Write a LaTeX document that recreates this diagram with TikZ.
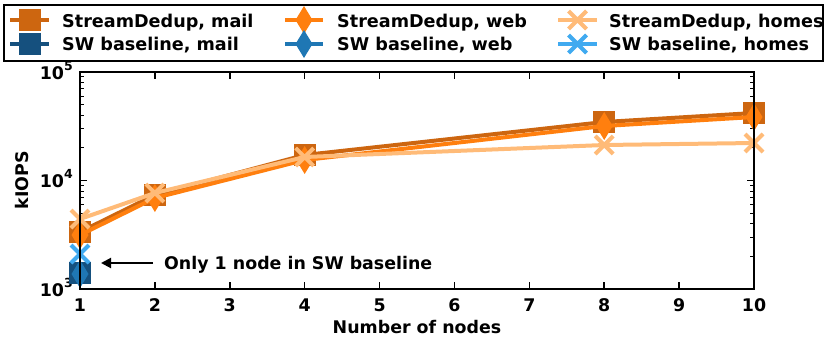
\documentclass[tikz,border=0pt]{standalone}
\usepackage{fontspec}
\setmainfont{DejaVu Sans}
\usetikzlibrary{arrows.meta}
\definecolor{sdmail}{RGB}{205,102,16}
\definecolor{sdweb}{RGB}{255,127,14}
\definecolor{sdhomes}{RGB}{255,187,120}
\definecolor{swmail}{RGB}{21,80,126}
\definecolor{swweb}{RGB}{31,119,180}
\definecolor{swhomes}{RGB}{64,170,240}
\tikzset{
  pics/sqmark/.style={code={\fill[#1] (-11,-11) rectangle (11,11);}},
  pics/dmark/.style={code={\fill[#1] (0,-14) -- (8.5,0) -- (0,14) -- (-8.5,0) -- cycle;}},
  pics/xmark/.style={code={\draw[#1, line width=4pt] (-9,-9)--(9,9) (-9,9)--(9,-9);}},
  dataline/.style={line width=4pt, line join=round},
  lab/.style={font=\fontsize{17.4}{17.4}\selectfont\bfseries, inner sep=0pt},
  leglab/.style={font=\fontsize{17.6}{17.6}\selectfont\bfseries, inner sep=0pt, anchor=base west},
  tick/.style={line width=1.5pt},
}
\newcommand\ylab[1]{10\raisebox{0.5em}{\fontsize{12.5}{12.5}\selectfont #1}}
\begin{document}
\begin{tikzpicture}[x=1pt,y=-1pt]
\useasboundingbox (0,0) rectangle (824,343);
% legend
\draw[line width=2pt] (4,5) rectangle (822.5,61);
% col 1
\draw[dataline, sdmail] (10,20) -- (49,20); \pic at (29.5,20) {sqmark=sdmail};
\node[leglab] (l1) at (62,27.5) {StreamDedup, mail};
\draw[dataline, swmail] (10,44) -- (49,44); \pic at (29.5,44) {sqmark=swmail};
\node[leglab] (l2) at (62,50.5) {SW baseline, mail};
% col 2
\draw[dataline, sdweb] (285,20) -- (323,20); \pic at (304,20) {dmark=sdweb};
\node[leglab] (l3) at (337,27.5) {StreamDedup, web};
\draw[dataline, swweb] (285,44) -- (323,44); \pic at (304,44) {dmark=swweb};
\node[leglab] (l4) at (337,50.5) {SW baseline, web};
% col 3
\draw[dataline, sdhomes] (558,20) -- (597,20); \pic at (577.5,20) {xmark=sdhomes};
\node[leglab] (l5) at (609,27.5) {StreamDedup, homes};
\draw[dataline, swhomes] (558,44) -- (597,44); \pic at (577.5,44) {xmark=swhomes};
\node[leglab] (l6) at (609,50.5) {SW baseline, homes};

% axes ticks
\foreach \n in {1,...,10}{
  \draw[tick] ({80+74.889*(\n-1)},289) -- ++(0,-7);
  \draw[tick] ({80+74.889*(\n-1)},72) -- ++(0,7);
  \node[lab, anchor=base] at ({80+74.889*(\n-1)},311) {\n};
}
\foreach \d in {0,1}{
  \foreach \m in {2,...,9}{
    \draw[line width=1pt] (80,{289-108.5*(\d+log10(\m))}) -- ++(4,0);
    \draw[line width=1pt] (754,{289-108.5*(\d+log10(\m))}) -- ++(-4,0);
  }
}
\foreach \e/\yy in {3/289,4/180.5,5/72}{
  \draw[tick] (80,\yy) -- ++(7,0);
  \draw[tick] (754,\yy) -- ++(-7,0);
  \node[lab, anchor=base east] at (73,\yy+7) {\ylab{\e}};
}
\node[lab, anchor=base] (xl) at (417,333.5) {Number of nodes};
\node[lab, rotate=90] (yl) at (22,180) {kIOPS};

% data
\foreach \nm/\n/\yy in {a1/1/232,a2/2/195,a4/4/155,a8/8/122,a10/10/113}
  \coordinate (m\nm) at ({80+74.889*(\n-1)},\yy);
\foreach \nm/\n/\yy in {a1/1/235,a2/2/198,a4/4/160,a8/8/126,a10/10/117}
  \coordinate (w\nm) at ({80+74.889*(\n-1)},\yy);
\foreach \nm/\n/\yy in {a1/1/219,a2/2/193,a4/4/157,a8/8/145,a10/10/143}
  \coordinate (h\nm) at ({80+74.889*(\n-1)},\yy);
\coordinate (swm) at (80,273);
\coordinate (sww) at (80,274);
\coordinate (swh) at (80,254);

\draw[dataline, sdmail] (ma1) -- (ma2) -- (ma4) -- (ma8) -- (ma10);
\foreach \p in {ma1,ma2,ma4,ma8,ma10} \pic at (\p) {sqmark=sdmail};
\pic at (swm) {sqmark=swmail};
\draw[dataline, sdweb] (wa1) -- (wa2) -- (wa4) -- (wa8) -- (wa10);
\foreach \p in {wa1,wa2,wa4,wa8,wa10} \pic at (\p) {dmark=sdweb};
\pic at (sww) {dmark=swweb};
\draw[dataline, sdhomes] (ha1) -- (ha2) -- (ha4) -- (ha8) -- (ha10);
\foreach \p in {ha1,ha2,ha4,ha8,ha10} \pic at (\p) {xmark=sdhomes};
\pic at (swh) {xmark=swhomes};

% frame
\draw[line width=2pt] (80,72) rectangle (754,289);

% annotation
\node[lab, anchor=base west] (ann) at (164,269.5) {Only 1 node in SW baseline};
\coordinate (arrS) at (153,263);
\coordinate (arrE) at (101,263);
\draw[line width=2pt, -{Triangle[length=10pt,width=10pt]}] (arrS) -- (arrE);
\end{tikzpicture}
\end{document}
